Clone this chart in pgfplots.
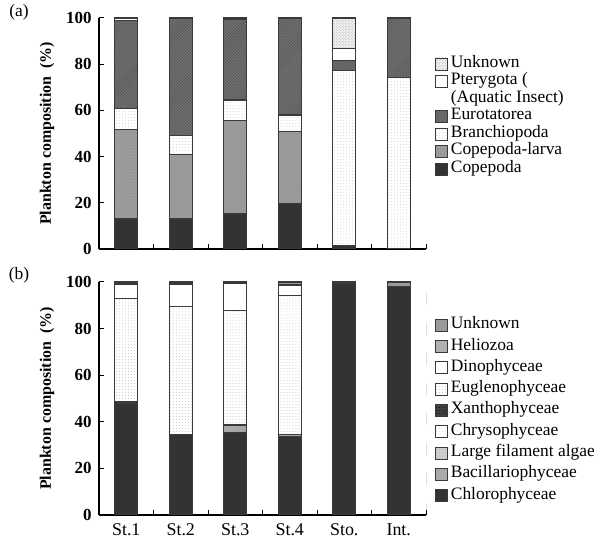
\documentclass[border=0pt]{standalone}
\usepackage{fontspec}
\setmainfont{Liberation Serif}
\usepackage{pgfplots}
\pgfplotsset{compat=1.18}
\usetikzlibrary{patterns}
\definecolor{dk}{HTML}{333333}
\definecolor{md}{HTML}{999999}
\definecolor{eu}{HTML}{707070}
\definecolor{eul}{HTML}{505050}
\definecolor{edge}{HTML}{3A3A3A}

\pgfplotstableread{
x    cop   larva  branch  euro  ptery  unk
0.5  13.0  38.9   9.0     38.1  0.6    0.4
1.5  13.0  27.9   8.4     50.7  0.0    0.0
2.5  15.2  40.3   9.0     34.9  0.3    0.3
3.5  19.6  31.4   7.0     42.0  0.0    0.0
4.5  1.7   0.0    75.5    4.5   5.0    13.3
5.5  0.0   0.0    74.2    25.8  0.0    0.0
}\tabA

\pgfplotstableread{
x    chl   bac   lfa   chr   xan   eug   din   hel   unk
0.5  47.9  0.6   0.4   0.0   0.0   44.1  6.0   0.4   0.6
1.5  34.7  0.0   0.0   0.0   0.0   54.6  9.7   0.5   0.5
2.5  35.3  3.3   0.4   0.0   0.0   48.6  11.7  0.3   0.4
3.5  33.6  0.8   0.3   0.0   0.0   59.6  4.3   0.4   1.0
4.5  99.3  0.0   0.0   0.0   0.0   0.0   0.0   0.0   0.7
5.5  98.0  0.0   0.0   0.0   0.0   0.0   0.0   0.0   2.0
}\tabB

\pgfplotsset{
  panel/.style={
    scale only axis, width=327bp,
    ybar stacked, bar width=23bp,
    xmin=0, xmax=6, ymin=0, ymax=100,
    axis lines=left, axis line style={-, line width=1.1bp, black},
    tick align=inside, major tick length=5bp,
    tick style={line width=1bp, black},
    xtick={1,2,3,4,5,6}, xticklabels={},
    ytick={0,20,40,60,80,100},
    /pgf/number format/assume math mode=true,
    yticklabel style={font=\fontsize{17}{17}\selectfont\bfseries, xshift=-4bp},
    ylabel={Plankton composition\ \ (\%)},
    ylabel style={font=\fontsize{16}{16}\selectfont\bfseries, at={(axis description cs:-0.159,0.5)}, anchor=center},
    every axis plot/.append style={draw=edge, line width=1.1bp},
    legend cell align=left, reverse legend,
    legend image code/.code={\draw[##1, line width=0.8bp] (0bp,-6bp) rectangle (12bp,6bp);},
  },
}

\begin{document}
\begin{tikzpicture}
\useasboundingbox (0,0) rectangle (594bp,542bp);
\node[font=\fontsize{17.5}{17.5}\selectfont] at (19bp,530bp) {(a)};
\node[font=\fontsize{17.5}{17.5}\selectfont] at (19bp,267bp) {(b)};

\begin{axis}[panel, height=231bp, at={(99bp,293bp)}, anchor=south west,
  legend style={at={(axis description cs:1.018,0.845)}, anchor=north west, draw=none, fill=none,
    font=\fontsize{17.5}{18}\selectfont, row sep=1.5bp, column sep=3bp,
    nodes={inner sep=0pt, text height=11.5bp, text depth=4.5bp}},
]
\addplot[fill=dk] table[x=x,y=cop] {\tabA};
\addlegendentry{Copepoda}
\addplot[fill=md, postaction={pattern=dots, pattern color=gray!70}] table[x=x,y=larva] {\tabA};
\addlegendentry{Copepoda-larva}
\addplot[fill=white, postaction={pattern=dots, pattern color=gray!35}] table[x=x,y=branch] {\tabA};
\addlegendentry{Branchiopoda}
\addplot[fill=eu, postaction={pattern=north east lines, pattern color=eul}] table[x=x,y=euro] {\tabA};
\addlegendentry{Eurotatorea}
\addlegendimage{empty legend}
\addlegendentry{(Aquatic Insect)}
\addplot[fill=white] table[x=x,y=ptery] {\tabA};
\addlegendentry{Pterygota (}
\addplot[fill=gray!12, postaction={pattern=crosshatch dots, pattern color=gray!65}] table[x=x,y=unk] {\tabA};
\addlegendentry{Unknown}
\end{axis}

\begin{axis}[panel, height=233bp, at={(99bp,27bp)}, anchor=south west,
  extra x ticks={0.5,1.5,2.5,3.5,4.5,5.5},
  extra x tick labels={St.1,St.2,St.3,St.4,Sto.,Int.},
  extra x tick style={major tick length=0pt, xticklabel style={font=\fontsize{18}{18}\selectfont, yshift=-5bp}},
  legend style={at={(axis description cs:1.018,0.858)}, anchor=north west, draw=none, fill=none,
    font=\fontsize{17.5}{18}\selectfont, row sep=5.3bp, column sep=3bp,
    nodes={inner sep=0pt, text height=11.5bp, text depth=4.5bp}},
]
\addplot[fill=dk] table[x=x,y=chl] {\tabB};
\addlegendentry{Chlorophyceae}
\addplot[fill=gray!60, postaction={pattern=north east lines, pattern color=gray!85}] table[x=x,y=bac] {\tabB};
\addlegendentry{Bacillariophyceae}
\addplot[fill=gray!35, postaction={pattern=crosshatch dots, pattern color=gray!70}] table[x=x,y=lfa] {\tabB};
\addlegendentry{Large filament algae}
\addplot[fill=white, postaction={pattern=dots, pattern color=gray!25}] table[x=x,y=chr] {\tabB};
\addlegendentry{Chrysophyceae}
\addplot[fill=dk!90, postaction={pattern=crosshatch dots, pattern color=black}] table[x=x,y=xan] {\tabB};
\addlegendentry{Xanthophyceae}
\addplot[fill=white, postaction={pattern=dots, pattern color=gray!45}] table[x=x,y=eug] {\tabB};
\addlegendentry{Euglenophyceae}
\addplot[fill=white] table[x=x,y=din] {\tabB};
\addlegendentry{Dinophyceae}
\addplot[fill=gray!55, postaction={pattern=north east lines, pattern color=gray!80}] table[x=x,y=hel] {\tabB};
\addlegendentry{Heliozoa}
\addplot[fill=md] table[x=x,y=unk] {\tabB};
\addlegendentry{Unknown}
\draw[black, line width=0.8bp, dash pattern=on 12bp off 18bp] (axis cs:6,0) -- (axis cs:6,100);
\end{axis}
\end{tikzpicture}
\end{document}
